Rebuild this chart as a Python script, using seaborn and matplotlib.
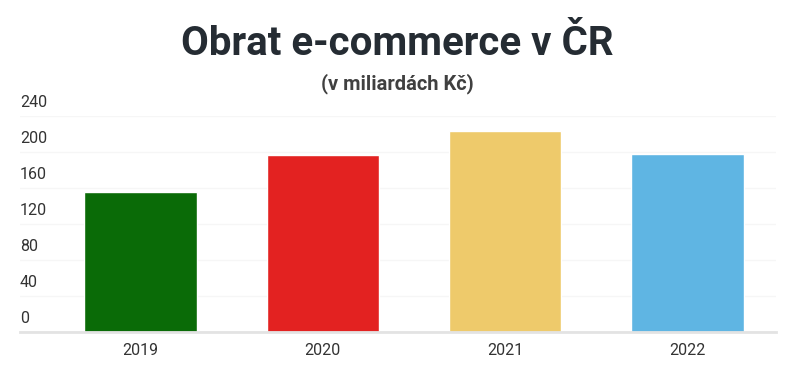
import numpy as np
import matplotlib as mpl
mpl.use('Agg')

import matplotlib.pyplot as plt
import matplotlib.transforms as mtransforms
import seaborn as sns
import pandas as pd

# data
years = ["2019", "2020", "2021", "2022"]
turnover = [155, 196, 223, 197]
bar_colors = ["#0a6b07", "#e32221", "#eeca6b", "#5fb5e3"]
y_ticks = [0, 40, 80, 120, 160, 200, 240]

title_text = "Obrat e-commerce v ČR"
subtitle_text = "(v miliardách Kč)"

sns.set_style("white")
plt.rcParams['font.family'] = ['Roboto', 'DejaVu Sans']

fig = plt.figure(figsize=(7.94, 3.75), dpi=100)
ax = fig.add_axes([20 / 794, 43.3 / 375, 756 / 794, (331.7 - 115.6) / 375])

df = pd.DataFrame({"Rok": years, "Obrat": turnover})
sns.barplot(data=df, x="Rok", y="Obrat", hue="Rok", palette=bar_colors,
            legend=False, width=0.617, saturation=1, ax=ax)

ax.set_xlim(-0.661, 3.486)
ax.set_ylim(0, 240)
ax.set_yticks(y_ticks)
ax.set_xlabel("")
ax.set_ylabel("")

# very faint grid, light baseline
ax.grid(axis='y', color='#f6f6f6', lw=1)
ax.set_axisbelow(True)
for s in ['top', 'right', 'left']:
    ax.spines[s].set_visible(False)
ax.spines['bottom'].set_color('#e3e3e3')
ax.spines['bottom'].set_linewidth(2)

ax.tick_params(axis='y', length=0, pad=0, labelsize=11.5, labelcolor='#333333')
ax.tick_params(axis='x', length=0, pad=8, labelsize=11.5, labelcolor='#333333')
offset = mtransforms.ScaledTranslation(0, 4 / 72, fig.dpi_scale_trans)
for lab in ax.get_yticklabels():
    lab.set_horizontalalignment('left')
    lab.set_verticalalignment('bottom')
    lab.set_transform(lab.get_transform() + offset)

fig.text(0.5, 1 - 44 / 375, title_text, ha='center', va='center',
         fontsize=29, fontweight='bold', color='#252c33')
fig.text(0.5, 1 - 84 / 375, subtitle_text, ha='center', va='center',
         fontsize=14.5, fontweight='bold', color='#404040')

plt.savefig('out.png', dpi=100)
plt.close()
